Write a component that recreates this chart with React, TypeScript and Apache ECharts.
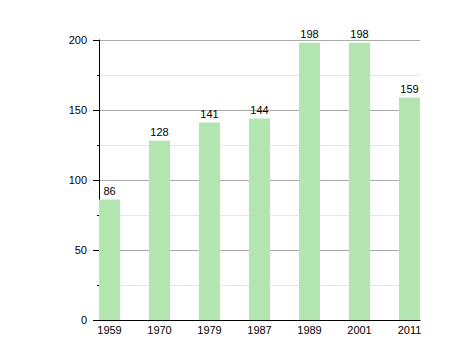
import React, { useEffect, useRef } from "react";
import * as echarts from "echarts";

const years = ["1959", "1970", "1979", "1987", "1989", "2001", "2011"];
const values = [86, 128, 141, 144, 198, 198, 159];
const yTicks = [0, 50, 100, 150, 200];

export default function App() {
  const ref = useRef<HTMLDivElement>(null);
  useEffect(() => {
    const chart = echarts.init(ref.current!, null, { renderer: "svg" });
    const font = "Liberation Sans, Arial, sans-serif";
    chart.setOption({
      animation: false,
      grid: { left: 99, right: 38, top: 40, bottom: 40, containLabel: false },
      xAxis: {
        type: "value",
        min: -0.21,
        max: years.length - 1 + 0.21,
        splitLine: { show: false },
        axisLine: { show: true, onZero: false, lineStyle: { color: "#000", width: 1 } },
        axisTick: { show: false },
        axisLabel: {
          customValues: years.map((_, i) => i),
          formatter: (v: number) => years[Math.round(v)] ?? "",
          color: "#000",
          fontSize: 11,
          fontFamily: font,
          margin: 4,
        },
      },
      yAxis: {
        type: "value",
        min: yTicks[0],
        max: yTicks[yTicks.length - 1],
        interval: 50,
        axisLine: { show: true, onZero: false, lineStyle: { color: "#000", width: 1 } },
        axisTick: { show: true, length: 6, lineStyle: { color: "#000" } },
        minorTick: { show: true, splitNumber: 2, length: 2, lineStyle: { color: "#000" } },
        splitLine: { show: true, lineStyle: { color: "#aaaaaa", width: 1 } },
        minorSplitLine: { show: true, lineStyle: { color: "#e6e6e6", width: 1 } },
        axisLabel: { color: "#000", fontSize: 11, fontFamily: font, margin: 12 },
      },
      series: [
        {
          type: "bar",
          data: values.map((v, i) => [i, v]),
          barWidth: 21,
          itemStyle: { color: "#b3e5b1" },
          label: {
            show: true,
            position: "top",
            distance: 3,
            color: "#000",
            fontSize: 11,
            fontFamily: font,
          },
        },
      ],
    });
    return () => chart.dispose();
  }, []);
  return (
    <div
      ref={ref}
      style={{ position: "absolute", left: 0, top: 0, width: 458, height: 360 }}
    />
  );
}
